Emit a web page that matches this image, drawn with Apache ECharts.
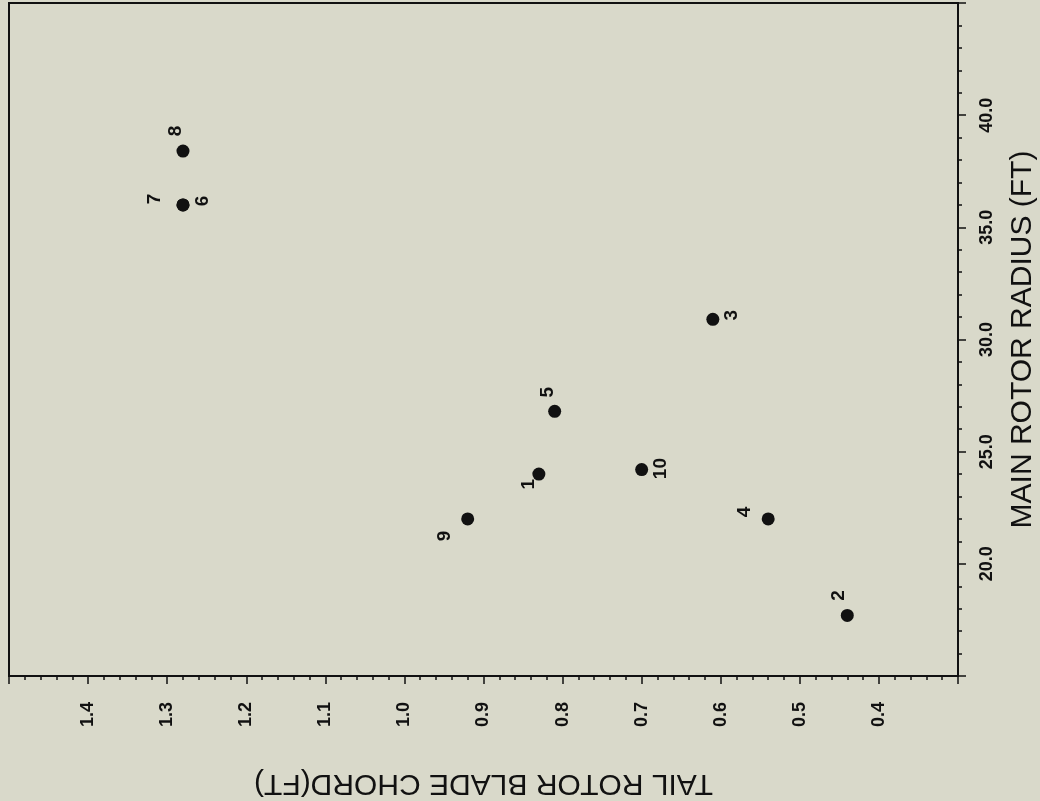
<!DOCTYPE html>
<html><head><meta charset="utf-8">
<script src="https://cdn.jsdelivr.net/npm/echarts@6/dist/echarts.min.js"></script>
<style>html,body{margin:0;padding:0;background:#d9d9ca;}#c{width:1040px;height:801px;}</style>
</head><body><div id="c"></div>
<script>
const ids = ['1','2','3','4','5','6','7','8','9','10'];
const chord = [0.83, 0.44, 0.61, 0.54, 0.81, 1.28, 1.28, 1.28, 0.92, 0.70];
const radius = [24.0, 17.7, 30.9, 22.0, 26.8, 36.0, 36.0, 38.4, 22.0, 24.2];
const xTitle = 'TAIL ROTOR BLADE CHORD(FT)';
const yTitle = 'MAIN ROTOR RADIUS (FT)';
// label displacement on screen [dx, dy] from each dot
const labelShift = [[-10,10],[-9,-20],[19,-4],[-23,-7],[-7,-19],[20,-4],[-28,-6],[-7,-20],[-23,17],[19,-1]];

const ink = '#111';
const font = 'Liberation Sans, Arial, sans-serif';
const chart = echarts.init(document.getElementById('c'));
chart.setOption({
  backgroundColor: '#d9d9ca',
  animation: false,
  grid: { left: 9, top: 3, right: 82, bottom: 125, outerBoundsMode: 'none', containLabel: false,
    show: true, borderColor: ink, borderWidth: 2 },
  xAxis: {
    type: 'value', inverse: true, min: 0.3, max: 1.5, interval: 0.1,
    name: xTitle, nameLocation: 'middle', nameGap: 92, nameRotate: 180,
    nameTextStyle: { fontFamily: font, fontSize: 30, color: ink },
    axisLine: { lineStyle: { color: ink, width: 2 } },
    axisTick: { inside: false, length: 8, lineStyle: { color: ink, width: 1.5 } },
    minorTick: { show: true, splitNumber: 5, length: 4, lineStyle: { color: ink, width: 1.5 } },
    splitLine: { show: false },
    axisLabel: { rotate: 90, margin: 26, showMinLabel: false, showMaxLabel: false,
      fontFamily: font, fontSize: 18, fontWeight: 'bold', color: ink,
      formatter: v => v.toFixed(1) }
  },
  yAxis: {
    type: 'value', position: 'right', min: 15, max: 45, interval: 5,
    name: yTitle, nameLocation: 'middle', nameGap: 50, nameRotate: 90,
    nameTextStyle: { fontFamily: font, fontSize: 30, color: ink },
    axisLine: { show: true, lineStyle: { color: ink, width: 2 } },
    axisTick: { show: true, inside: false, length: 8, lineStyle: { color: ink, width: 1.5 } },
    minorTick: { show: true, splitNumber: 5, length: 4, lineStyle: { color: ink, width: 1.5 } },
    splitLine: { show: false },
    axisLabel: { rotate: 90, margin: 20, showMinLabel: false, showMaxLabel: false,
      fontFamily: font, fontSize: 18, fontWeight: 'bold', color: ink,
      formatter: v => v.toFixed(1) }
  },
  series: [{
    type: 'scatter', symbol: 'circle', symbolSize: 13,
    itemStyle: { color: ink, opacity: 1 },
    data: chord.map((c, i) => ({
      value: [c, radius[i]], name: ids[i],
      label: { offset: [-labelShift[i][1], labelShift[i][0]] }
    })),
    label: { show: true, position: 'inside', rotate: 90, align: 'center', verticalAlign: 'middle',
      fontFamily: font, fontSize: 19, fontWeight: 'bold', color: ink,
      formatter: p => p.name }
  }]
});
</script></body></html>
